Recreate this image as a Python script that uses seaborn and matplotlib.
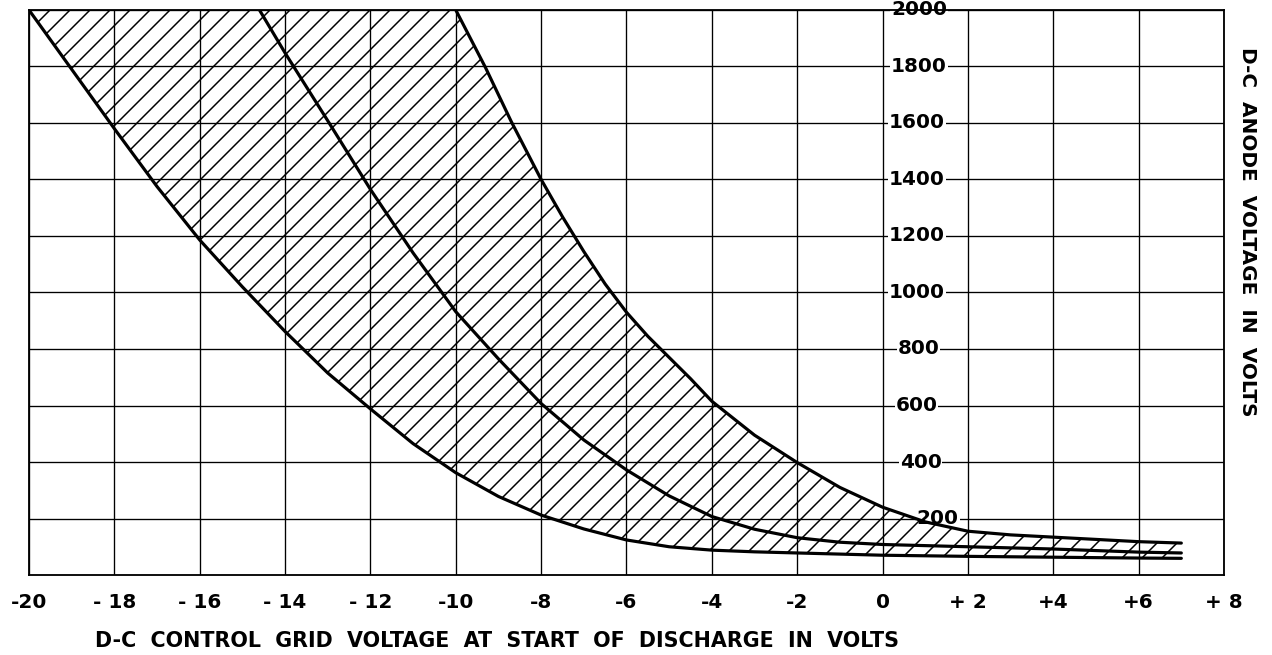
import numpy as np
import pandas as pd
import seaborn as sns
from matplotlib import pyplot as plt

# grid voltage (x) / anode voltage (y)
lower_x = [-20, -19, -18, -17, -16, -15, -14, -13, -12, -11, -10, -9, -8, -7, -6, -5, -4, -3, -2, 0, 2, 4, 6, 7]
lower_y = [2000, 1790, 1580, 1375, 1186, 1020, 862, 715, 588, 465, 362, 278, 212, 163, 124, 100, 88, 82, 78, 70, 66, 63, 60, 59]

middle_x = [-14.6, -14, -13, -12, -11, -10, -9, -8, -7, -6, -5, -4, -3, -2, -1, 0, 2, 4, 6, 7]
middle_y = [2000, 1848, 1608, 1365, 1140, 932, 765, 607, 478, 372, 280, 207, 162, 132, 116, 108, 100, 92, 81, 78]

upper_x = [-10, -9.3, -8.7, -8, -7.5, -7, -6.5, -6, -5.5, -5, -4.5, -4, -3, -2, -1, 0, 1, 2, 3, 4, 6, 7]
upper_y = [2000, 1795, 1605, 1400, 1268, 1145, 1030, 930, 845, 770, 695, 615, 495, 398, 310, 240, 188, 155, 142, 134, 118, 113]

x_ticks = list(range(-20, 9, 2))
x_tick_labels = ['-20', '- 18', '- 16', '- 14', '- 12', '-10', '-8', '-6', '-4', '-2',
                 '0', '+ 2', '+4', '+6', '+ 8']
y_ticks = list(range(200, 2001, 200))
y_label_x = [0.8, 0.4, 0.3, 0.35, 0.15, 0.15, 0.15, 0.15, 0.2, 0.2]

x_title = 'D-C  CONTROL  GRID  VOLTAGE  AT  START  OF  DISCHARGE  IN  VOLTS'
y_title = 'D-C  ANODE  VOLTAGE  IN  VOLTS'

sns.set_theme(style="white")
plt.rcParams['font.family'] = ['DejaVu Sans']
plt.rcParams['text.color'] = 'black'
plt.rcParams['axes.labelcolor'] = 'black'
plt.rcParams['xtick.color'] = 'black'
plt.rcParams['hatch.linewidth'] = 0.9
plt.rcParams['hatch.color'] = 'black'

fig = plt.figure(figsize=(10.6, 655 / 120), dpi=120)
ax = fig.add_axes([29 / 1272, 1 - 575 / 655, 1195 / 1272, 565 / 655])

# hatched band between the lowest and highest curve
poly_x = lower_x + upper_x[::-1]
poly_y = lower_y + upper_y[::-1]
ax.fill(poly_x, poly_y, facecolor='none', edgecolor='black', hatch='//',
        linewidth=0, zorder=3)

for xs, ys in [(lower_x, lower_y), (middle_x, middle_y), (upper_x, upper_y)]:
    df = pd.DataFrame({'x': xs, 'y': ys})
    sns.lineplot(data=df, x='x', y='y', color='black', linewidth=1.9,
                 estimator=None, sort=False, ax=ax, zorder=4)

ax.set_xlim(-20, 8)
ax.set_ylim(0, 2000)
ax.set_xticks(x_ticks)
ax.set_xticklabels(x_tick_labels, fontsize=12, fontweight='bold', color='black')
ax.set_yticks(y_ticks)
ax.set_yticklabels([])
ax.tick_params(axis='both', length=0)
ax.tick_params(axis='x', pad=11)
ax.set_axisbelow(True)
ax.grid(True, color='black', linewidth=0.8)
for s in ax.spines.values():
    s.set_color('black')
    s.set_linewidth(1.1)

# y values written inside the grid
for v, xl in zip(y_ticks, y_label_x):
    ax.text(xl, v, str(v), ha='left', va='center', fontsize=12, fontweight='bold',
            color='black', zorder=2.5,
            bbox=dict(facecolor='white', edgecolor='none', pad=0.5))

ax.set_xlabel(x_title, fontsize=12.4, fontweight='bold', ha='left', va='center',
              color='black')
ax.xaxis.set_label_coords((95 - 29) / 1195, (575 - 641) / 565)

ax.yaxis.set_label_position('right')
ax.set_ylabel(y_title, fontsize=12, fontweight='bold', rotation=-90, va='center',
              color='black')
ax.yaxis.set_label_coords((1247 - 29) / 1195, (575 - 232) / 565)

plt.savefig('out.png', dpi=120)
